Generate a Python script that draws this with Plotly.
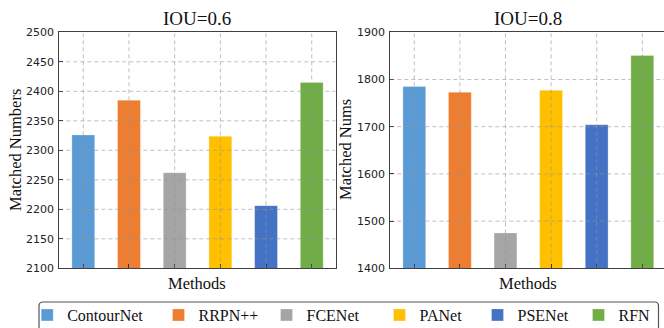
import plotly.graph_objects as go

methods = ["ContourNet", "RRPN++", "FCENet", "PANet", "PSENet", "RFN"]
colors = ["#5B9BD5", "#ED7D31", "#A5A5A5", "#FFC000", "#4472C4", "#70AD47"]
iou06_values = [2326, 2385, 2262, 2324, 2206, 2415]
iou08_values = [1785, 1773, 1475, 1777, 1704, 1851]
y06_ticks = [2100, 2150, 2200, 2250, 2300, 2350, 2400, 2450, 2500]
y08_ticks = [1400, 1500, 1600, 1700, 1800, 1900]

W, H = 664, 328
SERIF = "Liberation Serif"
SANS = "DejaVu Sans"
GRID = "rgba(150,150,150,0.6)"
SPINE = "#404040"
# left pixel position of each legend entry's text (layout only)
legend_text_px = [66.7, 198, 306, 419, 517, 618]

fig = go.Figure()
legend_layouts = {}
for i, m in enumerate(methods):
    lname = "legend" if i == 0 else f"legend{i + 1}"
    fig.add_trace(go.Bar(x=[m], y=[iou06_values[i]], name=m, marker_color=colors[i],
                         marker_line=dict(width=0.8, color="rgba(255,255,255,0.35)"),
                         width=0.5, legendgroup=m, legend=lname, xaxis="x", yaxis="y"))
    fig.add_trace(go.Bar(x=[m], y=[iou08_values[i]], name=m, marker_color=colors[i],
                         marker_line=dict(width=0.8, color="rgba(255,255,255,0.35)"),
                         width=0.5, legendgroup=m, legend=lname, showlegend=False,
                         xaxis="x2", yaxis="y2"))
    legend_layouts[lname] = dict(orientation="h", x=(legend_text_px[i] - 39.5) / W, xanchor="left",
                                 y=-4 / H, yanchor="bottom",
                                 font=dict(family=SERIF, size=16, color="#111"),
                                 bgcolor="rgba(0,0,0,0)", borderwidth=0, itemwidth=30)

ydom = [1 - 268.3 / H, 1 - 32.3 / H]
x1dom = [59.3 / W, 335.5 / W]
x2dom = [390.3 / W, 1.0]

xcommon = dict(type="category", categoryorder="array", categoryarray=methods,
               showticklabels=False, ticks="inside", ticklen=4, tickcolor="#111",
               showgrid=False, showline=True, linecolor=SPINE, linewidth=1.2,
               mirror=True, zeroline=False, fixedrange=True)
ycommon = dict(ticks="inside", ticklen=4, tickcolor="#111", showgrid=False,
               showline=True, linecolor=SPINE, linewidth=1.2, zeroline=False,
               tickfont=dict(family=SANS, size=11, color="#222"), ticklabelstandoff=2)

fig.update_layout(
    width=W, height=H, margin=dict(l=0, r=0, t=0, b=0, autoexpand=False),
    paper_bgcolor="white", plot_bgcolor="white", barmode="overlay",
    xaxis=dict(domain=x1dom, anchor="y", range=[-0.525, 5.52], **xcommon),
    yaxis=dict(domain=ydom, anchor="x", range=[2100, 2500], tickvals=y06_ticks, mirror=True, **ycommon),
    xaxis2=dict(domain=x2dom, anchor="y2", range=[-0.526, 5.476], **xcommon),
    yaxis2=dict(domain=ydom, anchor="x2", range=[1400, 1900], tickvals=y08_ticks, mirror=False, **ycommon),
    showlegend=True,
    **legend_layouts,
)

shapes = []
# grid lines drawn above bars (as in the reference)
for yv in y06_ticks[1:-1]:
    shapes.append(dict(type="line", xref="x domain", yref="y", x0=0, x1=1, y0=yv, y1=yv,
                       line=dict(color=GRID, width=1, dash="4px,3px"), layer="above"))
for yv in y08_ticks[1:-1]:
    shapes.append(dict(type="line", xref="x2 domain", yref="y2", x0=0, x1=1, y0=yv, y1=yv,
                       line=dict(color=GRID, width=1, dash="4px,3px"), layer="above"))
for m in methods:
    shapes.append(dict(type="line", xref="x", yref="y domain", x0=m, x1=m, y0=0, y1=1,
                       line=dict(color=GRID, width=1, dash="4px,3px"), layer="above"))
    shapes.append(dict(type="line", xref="x2", yref="y2 domain", x0=m, x1=m, y0=0, y1=1,
                       line=dict(color=GRID, width=1, dash="4px,3px"), layer="above"))
# legend frame (rounded, partly cut off at the bottom as in the reference)
lx0, lx1, ly0, ly1, r = 39 / W, 658.5 / W, 1 - 302 / H, -0.05, 4
rx, ry = r / W, r / H
shapes.append(dict(type="path", xref="paper", yref="paper",
                   path=(f"M {lx0},{ly1} L {lx0},{ly0 - ry} Q {lx0},{ly0} {lx0 + rx},{ly0} "
                         f"L {lx1 - rx},{ly0} Q {lx1},{ly0} {lx1},{ly0 - ry} L {lx1},{ly1}"),
                   line=dict(color="#555", width=1.2)))
fig.update_layout(shapes=shapes)

ann = [
    dict(text="IOU=0.6", x=sum(x1dom) / 2, y=1 - 18 / H, font=dict(size=19)),
    dict(text="IOU=0.8", x=(390.3 + 666) / 2 / W, y=1 - 18 / H, font=dict(size=19)),
    dict(text="Methods", x=sum(x1dom) / 2, y=1 - 283 / H, font=dict(size=16.5)),
    dict(text="Methods", x=(390.3 + 666) / 2 / W, y=1 - 283 / H, font=dict(size=16.5)),
    dict(text="Matched Numbers", x=15 / W, y=1 - 150 / H, textangle=-90, font=dict(size=16.5)),
    dict(text="Matched Nums", x=345 / W, y=1 - 150 / H, textangle=-90, font=dict(size=16.5)),
]
for a in ann:
    a.update(xref="paper", yref="paper", showarrow=False, xanchor="center", yanchor="middle")
    a["font"].update(family=SERIF, color="#111")
fig.update_layout(annotations=ann)

fig.write_html("out.html", config={"displayModeBar": False},
               post_script="document.body.style.margin='0px';document.body.style.overflow='hidden';")
